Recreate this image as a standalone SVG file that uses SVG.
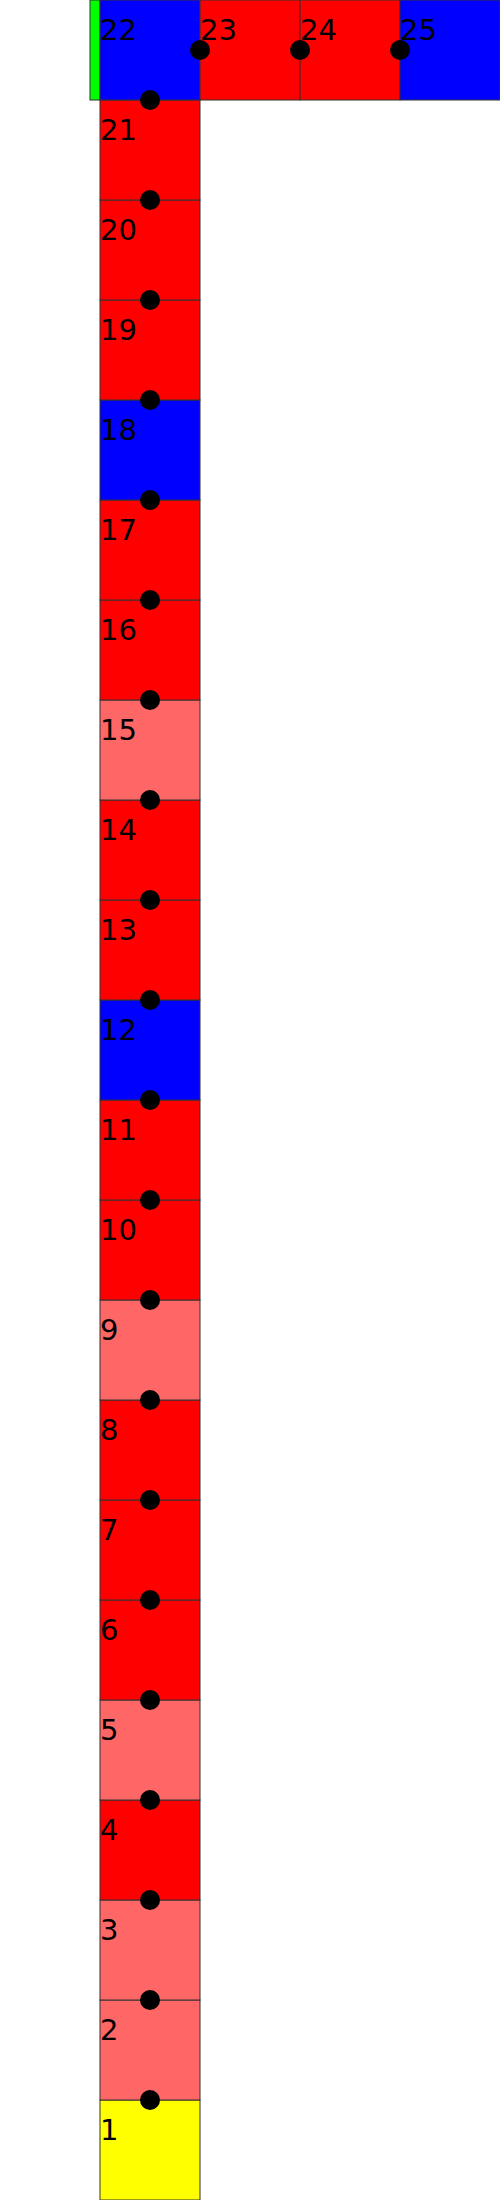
<svg xmlns="http://www.w3.org/2000/svg" width="500" height="2200" viewBox="0 0 500 2200">
<style>
rect.sq{stroke:#333;stroke-width:1}
.r{fill:#ff0000}.b{fill:#0000ff}.l{fill:#ff6666}.y{fill:#ffff00}.g{fill:#00ff00}
text{font-family:"DejaVu Sans",sans-serif;font-size:29px;fill:#000}
circle{fill:#000}
</style>
<rect width="500" height="2200" fill="#fff"/>
<g id="start"><rect class="sq g" x="90" y="0" width="10" height="100"/></g>
<g id="n1"><rect class="sq y" x="100" y="2100" width="100" height="100"/><text x="100" y="2140">1</text></g>
<g id="n2"><rect class="sq l" x="100" y="2000" width="100" height="100"/><text x="100" y="2040">2</text></g>
<g id="n3"><rect class="sq l" x="100" y="1900" width="100" height="100"/><text x="100" y="1940">3</text></g>
<g id="n4"><rect class="sq r" x="100" y="1800" width="100" height="100"/><text x="100" y="1840">4</text></g>
<g id="n5"><rect class="sq l" x="100" y="1700" width="100" height="100"/><text x="100" y="1740">5</text></g>
<g id="n6"><rect class="sq r" x="100" y="1600" width="100" height="100"/><text x="100" y="1640">6</text></g>
<g id="n7"><rect class="sq r" x="100" y="1500" width="100" height="100"/><text x="100" y="1540">7</text></g>
<g id="n8"><rect class="sq r" x="100" y="1400" width="100" height="100"/><text x="100" y="1440">8</text></g>
<g id="n9"><rect class="sq l" x="100" y="1300" width="100" height="100"/><text x="100" y="1340">9</text></g>
<g id="n10"><rect class="sq r" x="100" y="1200" width="100" height="100"/><text x="100" y="1240">10</text></g>
<g id="n11"><rect class="sq r" x="100" y="1100" width="100" height="100"/><text x="100" y="1140">11</text></g>
<g id="n12"><rect class="sq b" x="100" y="1000" width="100" height="100"/><text x="100" y="1040">12</text></g>
<g id="n13"><rect class="sq r" x="100" y="900" width="100" height="100"/><text x="100" y="940">13</text></g>
<g id="n14"><rect class="sq r" x="100" y="800" width="100" height="100"/><text x="100" y="840">14</text></g>
<g id="n15"><rect class="sq l" x="100" y="700" width="100" height="100"/><text x="100" y="740">15</text></g>
<g id="n16"><rect class="sq r" x="100" y="600" width="100" height="100"/><text x="100" y="640">16</text></g>
<g id="n17"><rect class="sq r" x="100" y="500" width="100" height="100"/><text x="100" y="540">17</text></g>
<g id="n18"><rect class="sq b" x="100" y="400" width="100" height="100"/><text x="100" y="440">18</text></g>
<g id="n19"><rect class="sq r" x="100" y="300" width="100" height="100"/><text x="100" y="340">19</text></g>
<g id="n20"><rect class="sq r" x="100" y="200" width="100" height="100"/><text x="100" y="240">20</text></g>
<g id="n21"><rect class="sq r" x="100" y="100" width="100" height="100"/><text x="100" y="140">21</text></g>
<g id="n22"><rect class="sq b" x="100" y="0" width="100" height="100"/><text x="100" y="40">22</text></g>
<g id="n23"><rect class="sq r" x="200" y="0" width="100" height="100"/><text x="200" y="40">23</text></g>
<g id="n24"><rect class="sq r" x="300" y="0" width="100" height="100"/><text x="300" y="40">24</text></g>
<g id="n25"><rect class="sq b" x="400" y="0" width="100" height="100"/><text x="400" y="40">25</text></g>
<g id="connectors">
<circle cx="150" cy="2100" r="10"/><circle cx="150" cy="2000" r="10"/><circle cx="150" cy="1900" r="10"/>
<circle cx="150" cy="1800" r="10"/><circle cx="150" cy="1700" r="10"/><circle cx="150" cy="1600" r="10"/>
<circle cx="150" cy="1500" r="10"/><circle cx="150" cy="1400" r="10"/><circle cx="150" cy="1300" r="10"/>
<circle cx="150" cy="1200" r="10"/><circle cx="150" cy="1100" r="10"/><circle cx="150" cy="1000" r="10"/>
<circle cx="150" cy="900" r="10"/><circle cx="150" cy="800" r="10"/><circle cx="150" cy="700" r="10"/>
<circle cx="150" cy="600" r="10"/><circle cx="150" cy="500" r="10"/><circle cx="150" cy="400" r="10"/>
<circle cx="150" cy="300" r="10"/><circle cx="150" cy="200" r="10"/><circle cx="150" cy="100" r="10"/>
<circle cx="200" cy="50" r="10"/><circle cx="300" cy="50" r="10"/><circle cx="400" cy="50" r="10"/>
</g>
</svg>
